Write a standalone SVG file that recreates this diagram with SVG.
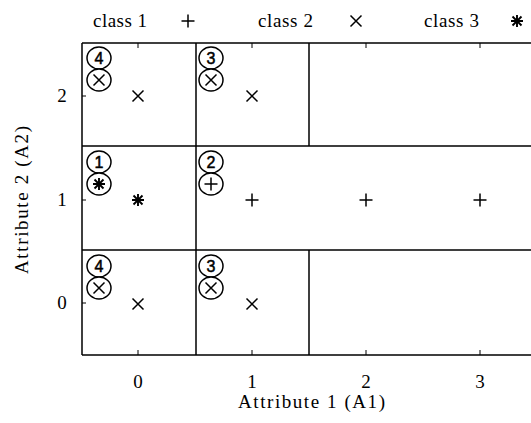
<svg xmlns="http://www.w3.org/2000/svg" xmlns:xlink="http://www.w3.org/1999/xlink" width="531" height="423" viewBox="0 0 531 423">
<style>
.ln{stroke:#000;stroke-width:1.5;fill:none}
.mk{stroke:#000;stroke-width:1.5;fill:none}
.cl{stroke:#000;stroke-width:1.5;fill:#fff}
.t{font-family:"Liberation Serif","Times New Roman",serif;font-size:19px;fill:#000}
.d{font-family:"Liberation Sans",Arial,sans-serif;font-size:16px;fill:#000;stroke:#000;stroke-width:0.5;text-anchor:middle}
</style>
<defs>
<path id="mx" class="mk" d="M-5.5,-5.5L5.5,5.5M-5.5,5.5L5.5,-5.5"/>
<path id="mp" class="mk" d="M-6.5,0L6.5,0M0,-6.5L0,6.5"/>
<path id="ms" class="mk" style="stroke-width:1.9" d="M-6,0L6,0M0,-6L0,6M-4.5,-4.5L4.5,4.5M-4.5,4.5L4.5,-4.5"/>
</defs>
<rect width="531" height="423" fill="#fff"/>
<g id="legend">
<text class="t" x="93" y="27" textLength="54" lengthAdjust="spacing">class 1</text>
<use xlink:href="#mp" x="188" y="21"/>
<text class="t" x="258" y="27" textLength="55" lengthAdjust="spacing">class 2</text>
<use xlink:href="#mx" x="356" y="21"/>
<text class="t" x="424" y="27" textLength="55" lengthAdjust="spacing">class 3</text>
<use xlink:href="#ms" x="517" y="21"/>
</g>
<g id="grid">
<path class="ln" d="M82,43H531M82,355H531M82,43V355M82,146H531M82,250H531M196,43V355M309,43V146M309,250V355"/>
<path class="ln" style="stroke-width:1" d="M138,43v5M252,43v5M366,43v5M480,43v5M138,355v-5M252,355v-5M366,355v-5M480,355v-5M82,96h4M82,200h4M82,303h4"/>
</g>
<g id="axes">
<text class="t" x="138" y="388" text-anchor="middle">0</text>
<text class="t" x="252" y="388" text-anchor="middle">1</text>
<text class="t" x="366" y="388" text-anchor="middle">2</text>
<text class="t" x="480" y="388" text-anchor="middle">3</text>
<text class="t" x="62" y="102" text-anchor="middle">2</text>
<text class="t" x="62" y="206" text-anchor="middle">1</text>
<text class="t" x="62" y="309" text-anchor="middle">0</text>
<text class="t" x="238" y="408" textLength="147" lengthAdjust="spacing">Attribute 1 (A1)</text>
<text class="t" transform="translate(28,200) rotate(-90)" x="-74" y="0" textLength="148" lengthAdjust="spacing">Attribute 2 (A2)</text>
</g>
<g id="points">
<use xlink:href="#mx" x="138" y="96"/>
<use xlink:href="#mx" x="252" y="96"/>
<use xlink:href="#ms" x="138" y="200"/>
<use xlink:href="#mp" x="252" y="200"/>
<use xlink:href="#mp" x="366" y="200"/>
<use xlink:href="#mp" x="480" y="200"/>
<use xlink:href="#mx" x="138" y="304"/>
<use xlink:href="#mx" x="252" y="304"/>
</g>
<g id="cell-0-2">
<ellipse class="cl" cx="99" cy="58" rx="12" ry="11"/><text class="d" x="99" y="64">4</text>
<ellipse class="cl" cx="99" cy="80" rx="12" ry="11"/><use xlink:href="#mx" x="99" y="80"/>
</g>
<g id="cell-1-2">
<ellipse class="cl" cx="211" cy="58" rx="12" ry="11"/><text class="d" x="211" y="64">3</text>
<ellipse class="cl" cx="211" cy="80" rx="12" ry="11"/><use xlink:href="#mx" x="211" y="80"/>
</g>
<g id="cell-0-1">
<ellipse class="cl" cx="99" cy="162" rx="12" ry="11"/><text class="d" x="99" y="168">1</text>
<ellipse class="cl" cx="99" cy="184" rx="12" ry="11"/><use xlink:href="#ms" x="99" y="184"/>
</g>
<g id="cell-1-1">
<ellipse class="cl" cx="211" cy="162" rx="12" ry="11"/><text class="d" x="211" y="168">2</text>
<ellipse class="cl" cx="211" cy="184" rx="12" ry="11"/><use xlink:href="#mp" x="211" y="184"/>
</g>
<g id="cell-0-0">
<ellipse class="cl" cx="99" cy="266" rx="12" ry="11"/><text class="d" x="99" y="272">4</text>
<ellipse class="cl" cx="99" cy="288" rx="12" ry="11"/><use xlink:href="#mx" x="99" y="288"/>
</g>
<g id="cell-1-0">
<ellipse class="cl" cx="211" cy="266" rx="12" ry="11"/><text class="d" x="211" y="272">3</text>
<ellipse class="cl" cx="211" cy="288" rx="12" ry="11"/><use xlink:href="#mx" x="211" y="288"/>
</g>
</svg>
